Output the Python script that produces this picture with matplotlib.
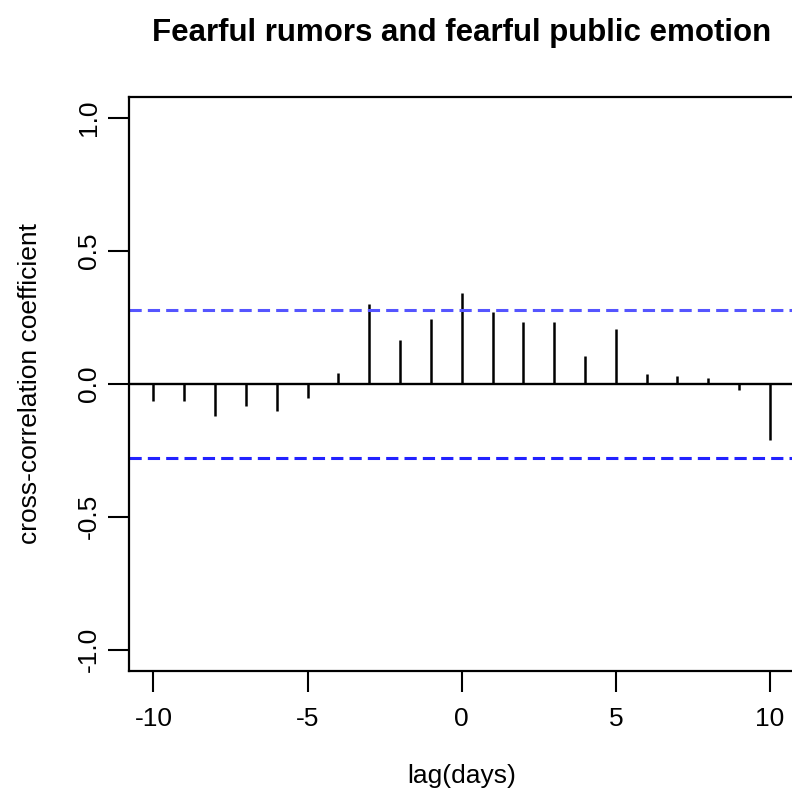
import matplotlib
matplotlib.use('Agg')
import matplotlib.pyplot as plt
import numpy as np

lags = np.arange(-10, 11)
ccf_values = [-0.066, -0.066, -0.120, -0.083, -0.101, -0.054, 0.040, 0.301, 0.165, 0.243,
              0.341, 0.272, 0.234, 0.234, 0.106, 0.206, 0.038, 0.030, 0.021, -0.023, -0.211]
conf_limit = 0.277
x_ticks = [-10, -5, 0, 5, 10]
y_ticks = [-1.0, -0.5, 0.0, 0.5, 1.0]

plt.rcParams['font.family'] = ['Liberation Sans', 'DejaVu Sans']

fig = plt.figure(figsize=(7.92, 7.94), dpi=100)
ax = fig.add_axes([0.1626, 0.1549, 0.8407, 0.7233])

ax.vlines(lags, 0, ccf_values, color='black', linewidth=1.8)
ax.axhline(0, color='black', linewidth=1.7)
ax.axhline(conf_limit, color='#5555ff', linewidth=2.2, linestyle=(0, (4, 2)))
ax.axhline(-conf_limit, color='#2222ff', linewidth=2.2, linestyle=(0, (4, 2)))

ax.set_xlim(-10.8, 10.8)
ax.set_ylim(-1.08, 1.08)
ax.set_xticks(x_ticks)
ax.set_xticklabels([str(t) for t in x_ticks])
ax.set_yticks(y_ticks)
ax.set_yticklabels(['%.1f' % t for t in y_ticks], rotation=90, va='center')

ax.tick_params(direction='out', length=15, width=1.5, labelsize=19)
ax.tick_params(axis='x', pad=11)
ax.tick_params(axis='y', pad=5)
for s in ax.spines.values():
    s.set_linewidth(1.6)

ax.set_xlabel('lag(days)', fontsize=19, labelpad=24)
ax.set_ylabel('cross-correlation coefficient', fontsize=19, labelpad=25)
ax.set_title('Fearful rumors and fearful public emotion', fontsize=22.5, fontweight='bold', pad=40)

fig.savefig('out.png', dpi=100)
